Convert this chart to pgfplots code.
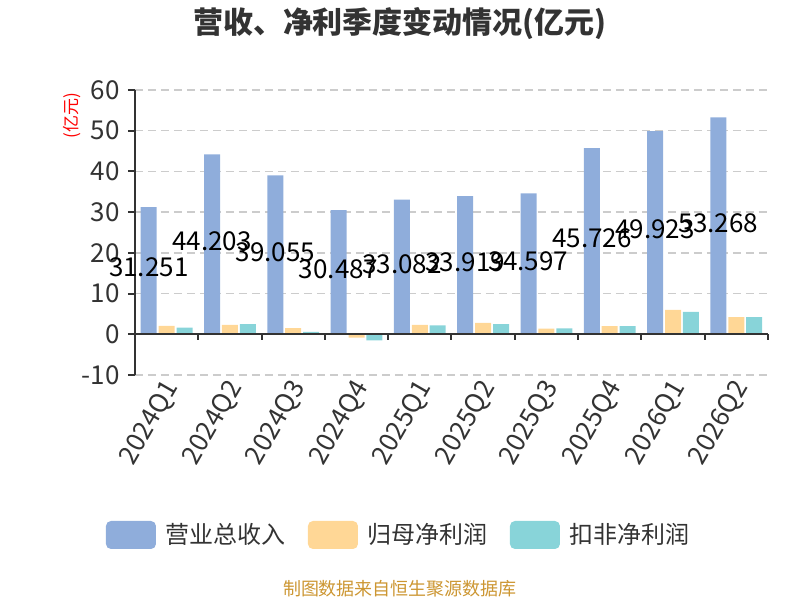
\documentclass[border=0pt]{standalone}
\usepackage{pgfplots}
\pgfplotsset{compat=1.18}
\usepackage{pgfplotstable}
\usepackage{fontspec}
\setmainfont{Noto Sans CJK SC}
\definecolor{cblue}{RGB}{143,173,219}
\definecolor{corange}{RGB}{255,215,150}
\definecolor{cteal}{RGB}{136,212,217}
\definecolor{txt}{RGB}{51,51,51}
\definecolor{src}{RGB}{204,150,50}
\definecolor{gridc}{RGB}{204,204,204}

\pgfplotstableread{
x rev parent deducted
0 31.251 2.05 1.64
1 44.203 2.3 2.5
2 39.055 1.5 0.6
3 30.487 -0.8 -1.5
4 33.082 2.3 2.2
5 33.919 2.8 2.5
6 34.597 1.4 1.45
7 45.726 2.0 2.0
8 49.923 6.0 5.5
9 53.268 4.2 4.2
}\data

\pgfplotsset{
  mybar/.style={ybar, bar width=8pt, draw=none,
    legend image code/.code={\fill[##1, rounded corners=2.5pt] (0pt,-7pt) rectangle (25pt,7pt);}},
}

\begin{document}
\begin{tikzpicture}
\path[use as bounding box] (0,0) rectangle (400pt,300pt);
\node[font=\bfseries\fontsize{15pt}{17pt}\selectfont, text=txt] at (200pt,288pt) {营收、净利季度变动情况(亿元)};
\node[font=\fontsize{9pt}{10pt}\selectfont, text=src] at (200pt,5.5pt) {制图数据来自恒生聚源数据库};
\begin{axis}[
  at={(67.5pt,112.5pt)}, anchor=south west,
  scale only axis, width=316.5pt, height=142.5pt,
  xmin=-0.5, xmax=9.5, ymin=-10, ymax=60,
  clip=false,
  axis x line*=bottom, axis y line*=left,
  x axis line style={draw=none},
  y axis line style={txt, line width=1pt},
  xtick={0,...,9},
  xticklabels={2024Q1,2024Q2,2024Q3,2024Q4,2025Q1,2025Q2,2025Q3,2025Q4,2026Q1,2026Q2},
  xtick style={draw=none},
  ytick={-10,0,10,20,30,40,50,60},
  ytick style={txt, line width=1pt},
  tick align=outside, major tick length=3.5pt,
  /pgf/number format/assume math mode=true,
  yticklabel style={font=\fontsize{13pt}{15pt}\selectfont, text=txt, inner sep=0pt, xshift=-4pt},
  xticklabel style={font=\fontsize{13pt}{15pt}\selectfont, text=txt, rotate=60, anchor=east, inner sep=0pt, yshift=-3pt, xshift=1pt},
  ymajorgrids,
  major grid style={gridc, line width=0.75pt, dash pattern=on 4pt off 2.5pt},
  ylabel={(亿元)},
  ylabel style={at={(axis description cs:-0.0995,0.909)}, anchor=center, rotate=0, font=\fontsize{8.5pt}{9pt}\selectfont, text=red},
  legend columns=3,
  legend cell align=left,
  legend style={at={(axis description cs:0.4186,-0.5614)}, anchor=center, draw=none, fill=none,
    font=\fontsize{12pt}{14pt}\selectfont, text=txt,
    /tikz/every odd column/.append style={column sep=3pt},
    /tikz/every even column/.append style={column sep=9pt}},
]
\addplot[mybar, bar shift=-8.95pt, fill=cblue] table[x=x, y=rev] {\data};
\addlegendentry{营业总收入}
\addplot[mybar, bar shift=0pt, fill=corange] table[x=x, y=parent] {\data};
\addlegendentry{归母净利润}
\addplot[mybar, bar shift=8.95pt, fill=cteal] table[x=x, y=deducted] {\data};
\addlegendentry{扣非净利润}
\addplot[draw=none, mark=none, forget plot, nodes near coords, point meta=explicit symbolic,
  nodes near coords style={font=\fontsize{13pt}{15pt}\selectfont, text=black, anchor=center, xshift=-8.95pt, yshift=1.5pt}]
  table[x=x, y expr=\thisrow{rev}/2, meta=rev] {\data};
\draw[txt, line width=1pt] (axis cs:-0.5,0) -- (axis cs:9.5,0);
\pgfplotsinvokeforeach{-0.5,0.5,1.5,2.5,3.5,4.5,5.5,6.5,7.5,8.5,9.5}{
  \draw[txt, line width=1pt] (axis cs:#1,0) -- ++(0pt,-3pt);
}
\end{axis}
\end{tikzpicture}
\end{document}
